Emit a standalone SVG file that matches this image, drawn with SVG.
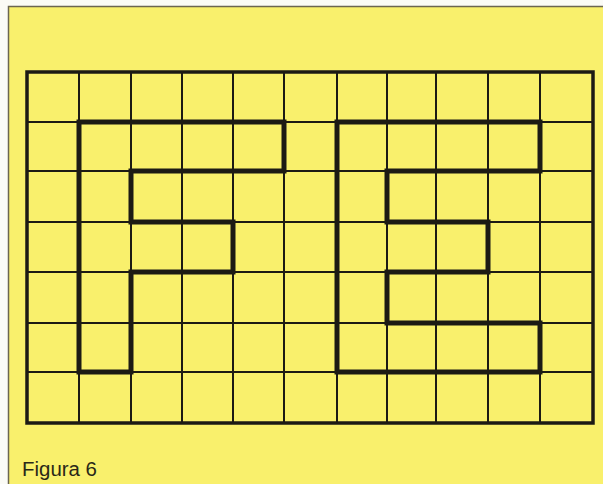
<svg xmlns="http://www.w3.org/2000/svg" width="603" height="484" viewBox="0 0 603 484">
<style>
.thin{stroke:#1c1a14;stroke-width:2;fill:none;stroke-linecap:square}
.outer{stroke:#1c1a14;stroke-width:3.5;fill:none;stroke-linejoin:miter}
.thick{stroke:#1c1a14;stroke-width:5;fill:none;stroke-linejoin:miter}
.label{font-family:"Liberation Sans",Arial,sans-serif;font-size:19.5px;fill:#2a2818}
</style>
<rect x="0" y="0" width="603" height="484" fill="#fbfbf6"/>
<rect x="8" y="6" width="595" height="478" fill="#f9f06c"/>
<path d="M8.5 484 V6.5 H603" stroke="#6b6650" stroke-width="1.5" fill="none"/>
<g id="grid">
<path class="thin" d="M79 72V423M131 72V423M182 72V423M233 72V423M284 72V423M337 72V423M387 72V423M436 72V423M488 72V423M540 72V423"/>
<path class="thin" d="M27 122H593M27 171H593M27 222H593M27 272H593M27 323H593M27 372H593"/>
<rect class="outer" x="27" y="72" width="566" height="351"/>
</g>
<g id="letter-F">
<path class="thick" d="M79 122H284V171H131V222H233V272H131V372H79Z"/>
</g>
<g id="letter-E">
<path class="thick" d="M337 122H540V171H387V222H488V272H387V323H540V372H337Z"/>
</g>
<g id="caption">
<text class="label" x="22" y="476" textLength="75" lengthAdjust="spacingAndGlyphs">Figura 6</text>
</g>
</svg>
